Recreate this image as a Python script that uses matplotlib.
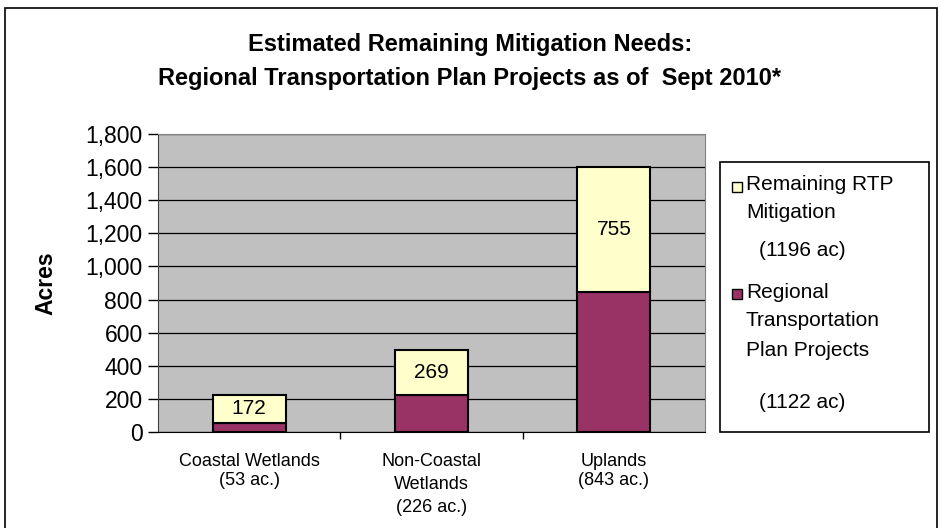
import matplotlib.pyplot as plt
from matplotlib.patches import Rectangle

categories = ["Coastal Wetlands\n(53 ac.)", "Non-Coastal\nWetlands\n(226 ac.)", "Uplands\n(843 ac.)"]
rtp_projects = [53, 226, 843]
remaining = [172, 269, 755]
y_ticks = [0, 200, 400, 600, 800, 1000, 1200, 1400, 1600, 1800]

maroon = "#993366"
cream = "#FFFFCC"

plt.rcParams['font.family'] = ['Liberation Sans', 'DejaVu Sans']

W, H = 941, 528
fig = plt.figure(figsize=(W / 100, H / 100), dpi=100)

# outer frame of the chart (bottom edge falls outside the picture)
fig.patches.append(Rectangle((5 / W, -0.05), (937 - 5) / W, 1.05 - 8 / H, transform=fig.transFigure,
                             fill=False, edgecolor="black", linewidth=1.2))

ax = fig.add_axes([158 / W, (H - 432) / H, (705 - 158) / W, (432 - 134) / H])
ax.set_facecolor("#C0C0C0")

x = range(len(categories))
ax.bar(x, rtp_projects, width=0.4, color=maroon, edgecolor="black", linewidth=1.5, zorder=3)
ax.bar(x, remaining, width=0.4, bottom=rtp_projects, color=cream, edgecolor="black", linewidth=1.5, zorder=3)

for i in x:
    ax.text(i, rtp_projects[i] + remaining[i] / 2, str(remaining[i]), ha="center", va="center",
            fontsize=15, zorder=4)

ax.set_xlim(-0.5, 2.5)
ax.set_ylim(0, 1800)
ax.set_yticks(y_ticks)
ax.set_yticklabels([f"{v:,}" for v in y_ticks], fontsize=16.5)
ax.yaxis.grid(True, color="black", linewidth=0.9, zorder=1)
ax.tick_params(axis="y", direction="out", length=7, width=1, pad=4)

ax.set_xticks([0.5, 1.5], minor=False)
ax.set_xticklabels([])
ax.tick_params(axis="x", direction="out", length=5, width=1)
ax.set_xticks(list(x), minor=True)
ax.set_xticklabels(categories, minor=True, fontsize=13, linespacing=1.15)
ax.get_xticklabels(minor=True)[1].set_linespacing(1.45)
ax.tick_params(axis="x", which="minor", length=0, pad=15)

for s in ["top", "right"]:
    ax.spines[s].set_color("#808080")
ax.spines["left"].set_color("#404040")
ax.spines["bottom"].set_color("black")

ax.set_ylabel("Acres", fontsize=16.5, fontweight="bold")
ax.yaxis.set_label_coords((57 - 158) / 547, 0.5)

fig.text(470 / W, 1 - 45 / H, "Estimated Remaining Mitigation Needs:", ha="center", va="center",
         fontsize=17, fontweight="bold")
fig.text(470 / W, 1 - 78 / H, "Regional Transportation Plan Projects as of  Sept 2010*", ha="center",
         va="center", fontsize=17, fontweight="bold")

# legend box
fig.patches.append(Rectangle((720 / W, 1 - 432 / H), (929 - 720) / W, (432 - 162) / H,
                             transform=fig.transFigure, facecolor="white", edgecolor="black", linewidth=1.2))
for yc, col in [(187, cream), (294, maroon)]:
    fig.patches.append(Rectangle((732 / W, 1 - (yc + 5) / H), 10 / W, 10 / H, transform=fig.transFigure,
                                 facecolor=col, edgecolor="black", linewidth=1))
legend_lines = [(746, 185, "Remaining RTP"), (746, 212, "Mitigation"), (759, 250, "(1196 ac)"),
                (746, 292, "Regional"), (746, 321, "Transportation"), (746, 350, "Plan Projects"),
                (759, 403, "(1122 ac)")]
for lx, ly, t in legend_lines:
    fig.text(lx / W, 1 - ly / H, t, ha="left", va="center", fontsize=15)

fig.savefig("out.png", dpi=100)
